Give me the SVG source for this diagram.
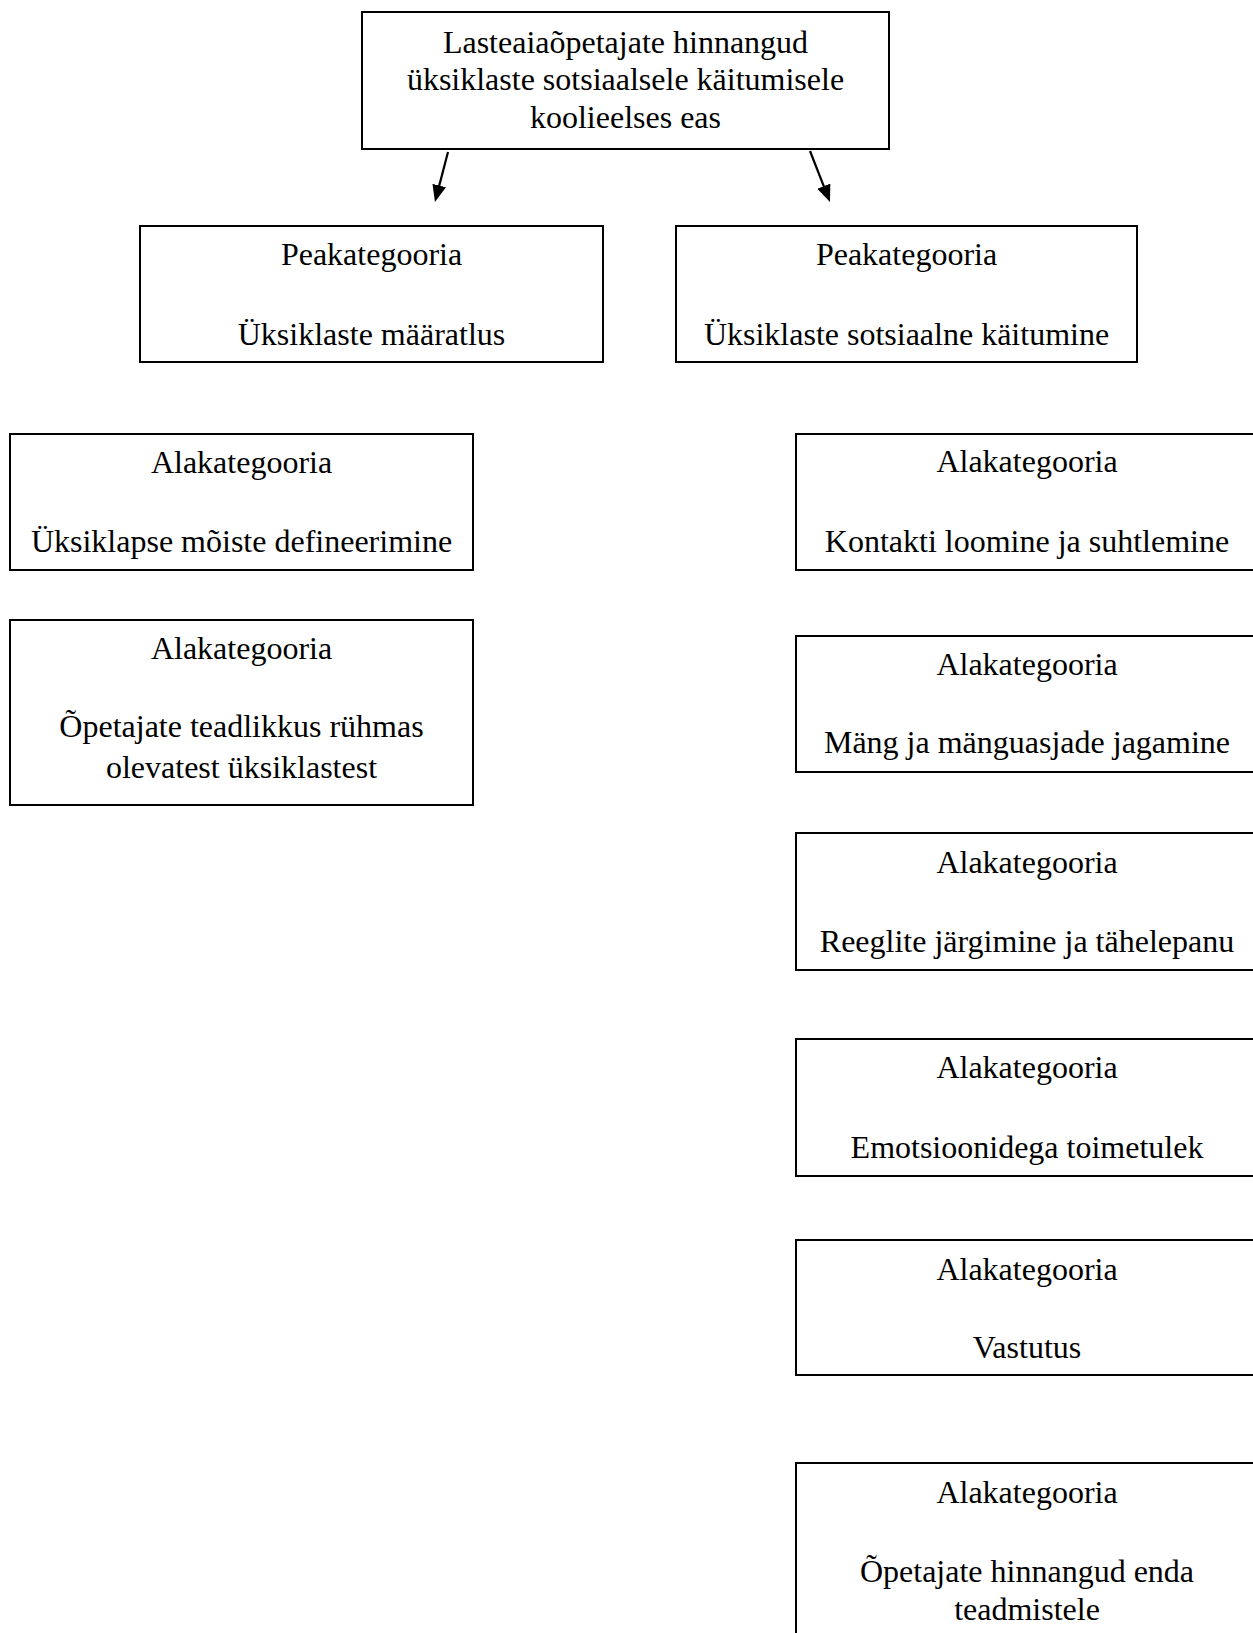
<svg xmlns="http://www.w3.org/2000/svg" width="1253" height="1633" viewBox="0 0 1253 1633">
<style>
.box{fill:#fff;stroke:#000;stroke-width:2}
.t{font-family:"Liberation Serif","Times New Roman",serif;font-size:32px;fill:#000;text-anchor:middle}
.con{stroke:#000;stroke-width:2.2;fill:none}
</style>
<defs>
<marker id="ah" viewBox="0 0 17 14" refX="5" refY="7" markerWidth="17" markerHeight="14" markerUnits="userSpaceOnUse" orient="auto">
<path d="M0,0 L17,7 L0,14 Z" fill="#000"/>
</marker>
</defs>
<rect width="1253" height="1633" fill="#fff"/>
<g id="connectors">
<line class="con" x1="448" y1="152" x2="438" y2="190.4" marker-end="url(#ah)"/>
<line class="con" x1="810" y1="151" x2="825.6" y2="190.8" marker-end="url(#ah)"/>
</g>
<g id="root">
<rect class="box" x="362" y="12" width="527" height="137"/>
<text class="t" x="625.5" y="53">Lasteaiaõpetajate hinnangud</text>
<text class="t" x="625.5" y="90">üksiklaste sotsiaalsele käitumisele</text>
<text class="t" x="625.5" y="128">koolieelses eas</text>
</g>
<g id="peak-left">
<rect class="box" x="140" y="226" width="463" height="136"/>
<text class="t" x="371.5" y="265">Peakategooria</text>
<text class="t" x="371.5" y="345">Üksiklaste määratlus</text>
</g>
<g id="peak-right">
<rect class="box" x="676" y="226" width="461" height="136"/>
<text class="t" x="906.5" y="265">Peakategooria</text>
<text class="t" x="906.5" y="345">Üksiklaste sotsiaalne käitumine</text>
</g>
<g id="ala-left-1">
<rect class="box" x="10" y="434" width="463" height="136"/>
<text class="t" x="241.5" y="473">Alakategooria</text>
<text class="t" x="241.5" y="552">Üksiklapse mõiste defineerimine</text>
</g>
<g id="ala-left-2">
<rect class="box" x="10" y="620" width="463" height="185"/>
<text class="t" x="241.5" y="659">Alakategooria</text>
<text class="t" x="241.5" y="737">Õpetajate teadlikkus rühmas</text>
<text class="t" x="241.5" y="778">olevatest üksiklastest</text>
</g>
<g id="ala-right-1">
<rect class="box" x="796" y="434" width="462" height="136"/>
<text class="t" x="1027" y="472">Alakategooria</text>
<text class="t" x="1027" y="552">Kontakti loomine ja suhtlemine</text>
</g>
<g id="ala-right-2">
<rect class="box" x="796" y="636" width="462" height="136"/>
<text class="t" x="1027" y="675">Alakategooria</text>
<text class="t" x="1027" y="753">Mäng ja mänguasjade jagamine</text>
</g>
<g id="ala-right-3">
<rect class="box" x="796" y="833" width="462" height="137"/>
<text class="t" x="1027" y="873">Alakategooria</text>
<text class="t" x="1027" y="952">Reeglite järgimine ja tähelepanu</text>
</g>
<g id="ala-right-4">
<rect class="box" x="796" y="1039" width="462" height="137"/>
<text class="t" x="1027" y="1078">Alakategooria</text>
<text class="t" x="1027" y="1158">Emotsioonidega toimetulek</text>
</g>
<g id="ala-right-5">
<rect class="box" x="796" y="1240" width="462" height="135"/>
<text class="t" x="1027" y="1280">Alakategooria</text>
<text class="t" x="1027" y="1358">Vastutus</text>
</g>
<g id="ala-right-6">
<rect class="box" x="796" y="1463" width="462" height="200"/>
<text class="t" x="1027" y="1503">Alakategooria</text>
<text class="t" x="1027" y="1582">Õpetajate hinnangud enda</text>
<text class="t" x="1027" y="1620">teadmistele</text>
</g>
</svg>
